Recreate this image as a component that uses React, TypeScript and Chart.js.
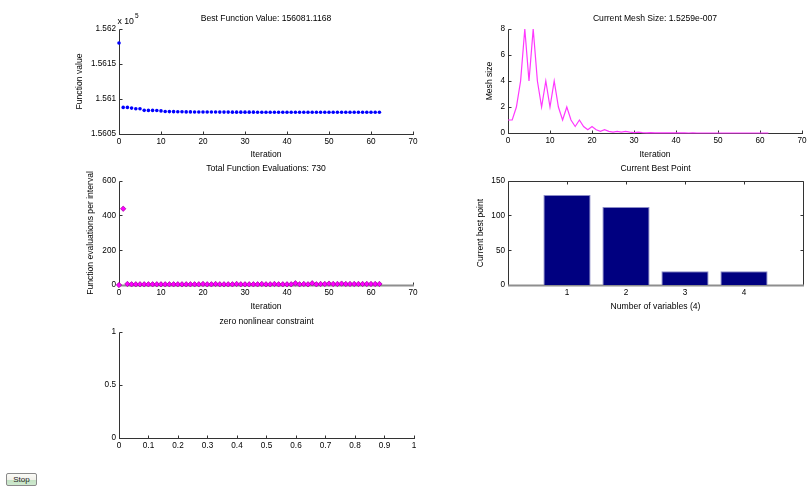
import React, { useEffect, useRef } from 'react';
import { Chart, registerables } from 'chart.js';

Chart.register(...registerables);

const FONT = "'Liberation Sans', Arial, sans-serif";
const TEXT = '#000000';
const AXIS = '#333333';

// ---------- Panel 1: best function value per iteration ----------
const bestFunctionValues = [
  156180, 156088.0, 156088.0, 156087.0, 156086.0, 156086.0, 156083.8, 156083.7, 156083.7, 156083.6,
  156083.0, 156082.2, 156082.0, 156081.9, 156081.8, 156081.7, 156081.6, 156081.55, 156081.5, 156081.45,
  156081.4, 156081.38, 156081.35, 156081.33, 156081.3, 156081.28, 156081.26, 156081.25, 156081.23, 156081.22,
  156081.2, 156081.19, 156081.18, 156081.17, 156081.16, 156081.15, 156081.15, 156081.14, 156081.14, 156081.13,
  156081.13, 156081.13, 156081.125, 156081.125, 156081.122, 156081.122, 156081.12, 156081.12, 156081.12, 156081.12,
  156081.119, 156081.119, 156081.119, 156081.118, 156081.118, 156081.118, 156081.118, 156081.117, 156081.117, 156081.117,
  156081.1168, 156081.1168, 156081.1168,
];
const functionValueTicks = [156050, 156100, 156150, 156200];
const functionValueTickLabels = ['1.5605', '1.561', '1.5615', '1.562'];

const iterationTicks = [0, 10, 20, 30, 40, 50, 60, 70];
const iterationTickLabels = ['0', '10', '20', '30', '40', '50', '60', '70'];

// ---------- Panel 2: mesh size per iteration ----------
const meshSizes = [
  1, 1, 2, 4, 8, 4, 8, 4, 2, 4,
  2, 4, 2, 1, 2, 1, 0.5, 1, 0.5, 0.25,
  0.5, 0.25, 0.125, 0.25, 0.125, 0.0625, 0.125, 0.0625, 0.125, 0.0625,
  0.03125, 0.0625, 0.03125, 0.015625, 0.03125, 0.015625, 0.0078125, 0.015625, 0.0078125, 0.00390625,
  0.0078125, 0.00390625, 0.001953125, 0.0009765625, 0.001953125, 0.0009765625, 0.00048828125, 0.000244140625, 0.00048828125, 0.000244140625,
  0.0001220703125, 0.00006103515625, 0.0001220703125, 0.00006103515625, 0.000030517578125, 0.0000152587890625, 0.00000762939453125, 0.000003814697265625, 0.0000019073486328125, 0.00000095367431640625,
  0.000000476837158203125, 0.0000002384185791015625, 0.00000015259,
];
const meshTicks = [0, 2, 4, 6, 8];
const meshTickLabels = ['0', '2', '4', '6', '8'];

// ---------- Panel 3: function evaluations per interval ----------
const evalsPerInterval = [
  0, 440, 6, 4, 4, 4, 4, 4, 4, 4,
  4, 4, 4, 4, 4, 4, 4, 4, 4, 4,
  6, 4, 4, 6, 4, 4, 4, 4, 6, 4,
  4, 4, 4, 4, 6, 4, 4, 6, 4, 4,
  4, 4, 10, 4, 6, 4, 10, 4, 6, 6,
  8, 6, 6, 8, 6, 6, 6, 6, 6, 6,
  6, 6, 6,
];
const evalTicks = [0, 200, 400, 600];
const evalTickLabels = ['0', '200', '400', '600'];

// ---------- Panel 4: current best point ----------
const variableNumbers = [1, 2, 3, 4];
const variableLabels = ['1', '2', '3', '4'];
const bestPoint = [129.8, 112.6, 20, 20];
const bestPointTicks = [0, 50, 100, 150];
const bestPointTickLabels = ['0', '50', '100', '150'];

// ---------- Panel 5: empty constraint axes ----------
const constraintXTicks = [0, 0.1, 0.2, 0.3, 0.4, 0.5, 0.6, 0.7, 0.8, 0.9, 1];
const constraintXLabels = ['0', '0.1', '0.2', '0.3', '0.4', '0.5', '0.6', '0.7', '0.8', '0.9', '1'];
const constraintYTicks = [0, 0.5, 1];
const constraintYLabels = ['0', '0.5', '1'];

const TICK_SIZE = 8.2;
const LABEL_SIZE = 8.6;
const TITLE_SIZE = 8.6;

const line = (ctx: CanvasRenderingContext2D, x1: number, y1: number, x2: number, y2: number) => {
  ctx.beginPath();
  ctx.moveTo(x1, y1);
  ctx.lineTo(x2, y2);
  ctx.stroke();
};

const axesPlugin = {
  id: 'matlabAxes',
  beforeDatasetsDraw(chart: any, _args: any, opts: any) {
    const { ctx, chartArea: a, scales } = chart;
    const L = Math.floor(a.left) + 0.5;
    const R = Math.floor(a.right) + 0.5;
    const T = Math.floor(a.top) + 0.5;
    const B = Math.floor(a.bottom) + 0.5;
    const tl = 3;
    ctx.save();
    ctx.lineWidth = 1;
    ctx.strokeStyle = AXIS;
    line(ctx, L, T, L, B);
    if (opts.box) {
      line(ctx, L, T, R, T);
      line(ctx, R, T, R, B);
    }
    scales.y.ticks.forEach((t: any) => {
      const y = Math.floor(scales.y.getPixelForValue(t.value)) + 0.5;
      line(ctx, L, y, L + tl, y);
      if (opts.box) line(ctx, R, y, R - tl, y);
    });
    scales.x.ticks.forEach((t: any) => {
      const x = Math.floor(scales.x.getPixelForValue(t.value)) + 0.5;
      line(ctx, x, B, x, B - tl);
      if (opts.box) line(ctx, x, T, x, T + tl);
    });
    ctx.strokeStyle = opts.bottomColor || AXIS;
    ctx.lineWidth = opts.bottomWidth || 1;
    line(ctx, L - 0.5, B, R + 0.5, B);
    if (opts.exponent) {
      ctx.fillStyle = TEXT;
      ctx.textBaseline = 'alphabetic';
      ctx.textAlign = 'left';
      ctx.font = `${TICK_SIZE + 0.5}px ${FONT}`;
      const base = 'x 10';
      ctx.fillText(base, a.left - 1.5, a.top - 5.5);
      const w = ctx.measureText(base).width;
      ctx.font = `${6.5}px ${FONT}`;
      ctx.fillText(opts.exponent, a.left - 1.5 + w + 1, a.top - 11);
    }
    ctx.restore();
  },
};

type Spec = {
  area: [number, number, number, number];
  title: string;
  titleY: number;
  xLabel?: string;
  xLabelY?: number;
  yLabel?: string;
  yLabelX?: number;
  x: { min: number; max: number; ticks: number[]; labels: string[] };
  y: { min: number; max: number; ticks: number[]; labels: string[] };
  type: string;
  datasets: any[];
  axes: any;
};

function geometry(spec: Spec) {
  const [L, T, R, B] = spec.area;
  const cl = Math.round(L - 64);
  const ct = Math.round(T - 27);
  const cr = Math.round(R + 14);
  const cb = Math.round(B + 30);
  return { L, T, R, B, cl, ct, cw: cr - cl, ch: cb - ct, cr, cb };
}

function makeConfig(spec: Spec): any {
  const g = geometry(spec);
  const titleLH = TITLE_SIZE * 1.2;
  const labelLH = LABEL_SIZE * 1.2;
  const tickFont = { family: FONT, size: TICK_SIZE };
  const labelFont = { family: FONT, size: LABEL_SIZE };
  return {
    type: spec.type,
    data: { datasets: spec.datasets },
    plugins: [axesPlugin],
    options: {
      responsive: false,
      animation: false,
      events: [],
      layout: {
        autoPadding: false,
        padding: { left: 0, right: g.cr - g.R, top: spec.titleY - g.ct - titleLH / 2, bottom: 0 },
      },
      plugins: {
        legend: { display: false },
        tooltip: { enabled: false },
        title: {
          display: true,
          text: spec.title,
          fullSize: false,
          color: TEXT,
          font: { family: FONT, size: TITLE_SIZE, weight: 'normal' },
          padding: { top: 0, bottom: g.T - spec.titleY - titleLH / 2 },
        },
        matlabAxes: spec.axes,
      },
      scales: {
        x: {
          type: 'linear',
          min: spec.x.min,
          max: spec.x.max,
          offset: false,
          grid: { display: false, drawTicks: false },
          border: { display: false },
          afterBuildTicks: (s: any) => {
            s.ticks = spec.x.ticks.map((v) => ({ value: v }));
          },
          afterFit: (s: any) => {
            s.height = g.cb - g.B;
          },
          ticks: {
            autoSkip: false,
            maxRotation: 0,
            minRotation: 0,
            padding: 3,
            color: TEXT,
            font: tickFont,
            callback: (_v: any, i: number) => spec.x.labels[i],
          },
          title: spec.xLabel
            ? {
                display: true,
                text: spec.xLabel,
                color: TEXT,
                font: labelFont,
                padding: { top: 0, bottom: g.cb - (spec.xLabelY as number) - labelLH / 2 },
              }
            : { display: false },
        },
        y: {
          type: 'linear',
          min: spec.y.min,
          max: spec.y.max,
          grid: { display: false, drawTicks: false },
          border: { display: false },
          afterBuildTicks: (s: any) => {
            s.ticks = spec.y.ticks.map((v) => ({ value: v }));
          },
          afterFit: (s: any) => {
            s.width = g.L - g.cl;
          },
          ticks: {
            autoSkip: false,
            padding: 3,
            color: TEXT,
            font: tickFont,
            callback: (_v: any, i: number) => spec.y.labels[i],
          },
          title: spec.yLabel
            ? {
                display: true,
                text: spec.yLabel,
                color: TEXT,
                font: labelFont,
                padding: { top: (spec.yLabelX as number) - g.cl - labelLH / 2, bottom: 0 },
              }
            : { display: false },
        },
      },
    },
  };
}

function Panel({ spec }: { spec: Spec }) {
  const ref = useRef<HTMLCanvasElement | null>(null);
  const g = geometry(spec);
  useEffect(() => {
    if (!ref.current) return;
    const chart = new Chart(ref.current, makeConfig(spec));
    return () => chart.destroy();
  }, []);
  return (
    <canvas
      ref={ref}
      width={g.cw}
      height={g.ch}
      style={{ position: 'absolute', left: g.cl, top: g.ct, width: g.cw, height: g.ch }}
    />
  );
}

const iterX = { min: 0, max: 70, ticks: iterationTicks, labels: iterationTickLabels };

const specs: Spec[] = [
  {
    area: [119, 29, 413, 134],
    title: 'Best Function Value: 156081.1168',
    titleY: 18.5,
    xLabel: 'Iteration',
    xLabelY: 154.5,
    yLabel: 'Function value',
    yLabelX: 80,
    x: iterX,
    y: { min: 156050, max: 156200, ticks: functionValueTicks, labels: functionValueTickLabels },
    type: 'scatter',
    datasets: [
      {
        data: bestFunctionValues.map((v, i) => ({ x: i, y: v })),
        showLine: false,
        pointRadius: 1.8,
        pointBackgroundColor: '#0000ff',
        pointBorderWidth: 0,
        clip: false,
      },
    ],
    axes: { exponent: '5' },
  },
  {
    area: [508, 29, 802, 133],
    title: 'Current Mesh Size: 1.5259e-007',
    titleY: 18.5,
    xLabel: 'Iteration',
    xLabelY: 154.5,
    yLabel: 'Mesh size',
    yLabelX: 490,
    x: iterX,
    y: { min: 0, max: 8, ticks: meshTicks, labels: meshTickLabels },
    type: 'line',
    datasets: [
      {
        data: meshSizes.map((v, i) => ({ x: i, y: v })),
        borderColor: '#ff38ff',
        borderWidth: 1.2,
        pointRadius: 0,
        tension: 0,
        fill: false,
        clip: false,
      },
    ],
    axes: {},
  },
  {
    area: [119, 181, 413, 285],
    title: 'Total Function Evaluations: 730',
    titleY: 169,
    xLabel: 'Iteration',
    xLabelY: 306.5,
    yLabel: 'Function evaluations per interval',
    yLabelX: 91,
    x: iterX,
    y: { min: 0, max: 600, ticks: evalTicks, labels: evalTickLabels },
    type: 'scatter',
    datasets: [
      {
        data: evalsPerInterval.map((v, i) => ({ x: i, y: v })),
        showLine: false,
        pointStyle: 'rectRot',
        pointRadius: 2.7,
        pointBackgroundColor: '#ff00ff',
        pointBorderColor: '#990099',
        pointBorderWidth: 0.7,
        clip: false,
      },
    ],
    axes: { bottomColor: '#8e8e8e', bottomWidth: 2 },
  },
  {
    area: [508, 181, 803, 285],
    title: 'Current Best Point',
    titleY: 169,
    xLabel: 'Number of variables (4)',
    xLabelY: 306.5,
    yLabel: 'Current best point',
    yLabelX: 481,
    x: { min: 0, max: 5, ticks: variableNumbers, labels: variableLabels },
    y: { min: 0, max: 150, ticks: bestPointTicks, labels: bestPointTickLabels },
    type: 'bar',
    datasets: [
      {
        data: bestPoint.map((v, i) => ({ x: variableNumbers[i], y: v })),
        backgroundColor: '#000080',
        borderColor: '#8c8cc8',
        borderWidth: 1,
        categoryPercentage: 1,
        barPercentage: 0.8,
      },
    ],
    axes: { box: true, bottomColor: '#8e8e8e', bottomWidth: 2 },
  },
  {
    area: [119, 332, 414, 438],
    title: 'zero nonlinear constraint',
    titleY: 321.5,
    x: { min: 0, max: 1, ticks: constraintXTicks, labels: constraintXLabels },
    y: { min: 0, max: 1, ticks: constraintYTicks, labels: constraintYLabels },
    type: 'scatter',
    datasets: [{ data: [] }],
    axes: {},
  },
];

export default function App() {
  return (
    <div
      style={{
        position: 'absolute',
        left: 0,
        top: 0,
        width: 808,
        height: 487,
        background: '#ffffff',
        overflow: 'hidden',
      }}
    >
      {specs.map((s, i) => (
        <Panel key={i} spec={s} />
      ))}
      <button
        style={{
          position: 'absolute',
          left: 6,
          top: 473,
          width: 31,
          height: 13,
          padding: 0,
          margin: 0,
          fontSize: 8,
          lineHeight: '11px',
          fontFamily: "'Liberation Sans', Arial, sans-serif",
          color: '#222',
          border: '1px solid #8a8a8a',
          borderRadius: 2,
          background: 'linear-gradient(#fbfbf7 0%, #f1f1ea 50%, #c4e2c4 55%, #cfe9cf 100%)',
        }}
      >
        Stop
      </button>
    </div>
  );
}
